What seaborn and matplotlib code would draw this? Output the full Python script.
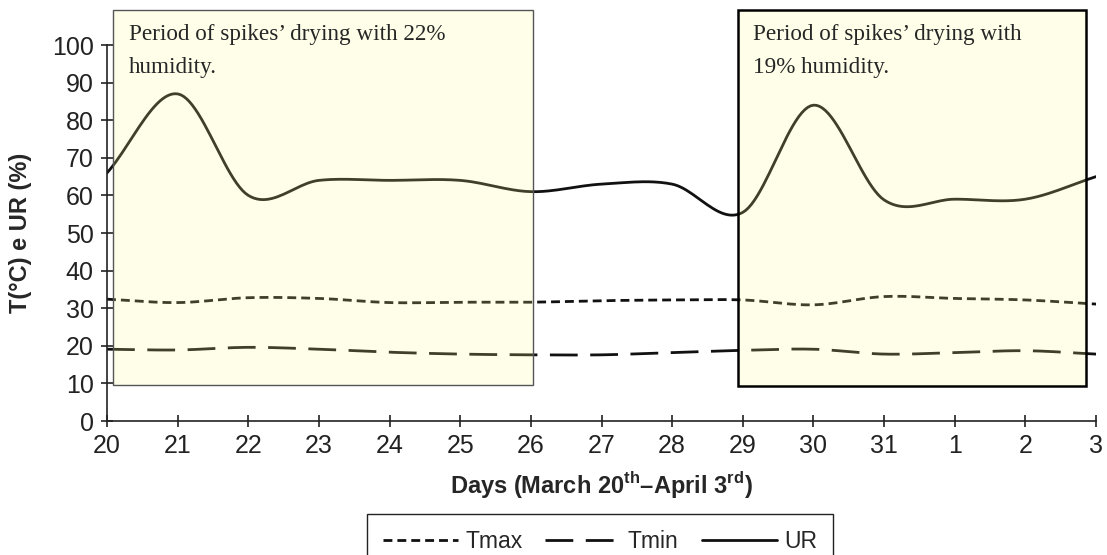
import numpy as np
import pandas as pd
import seaborn as sns
import matplotlib.pyplot as plt
from matplotlib.patches import Rectangle

day_labels = ["20", "21", "22", "23", "24", "25", "26", "27", "28", "29", "30", "31", "1", "2", "3"]
tmax = [32.4, 31.5, 32.8, 32.6, 31.5, 31.6, 31.6, 32.0, 32.2, 32.2, 30.9, 33.1, 32.6, 32.2, 31.1]
tmin = [19.1, 18.9, 19.6, 19.1, 18.3, 17.8, 17.6, 17.6, 18.2, 18.8, 19.1, 17.8, 18.2, 18.7, 17.8]
ur = [66, 87, 60, 64, 64, 64, 61, 63, 63, 55.5, 84, 58.8, 59, 59, 65]
series_names = ["Tmax", "Tmin", "UR"]

note1 = "Period of spikes\u2019 drying with 22%\nhumidity."
note2 = "Period of spikes\u2019 drying with\n19% humidity."


def smooth(xs, ys, n=24):
    # Catmull-Rom curve through the points, like Excel's "smoothed line"
    x = np.asarray(xs, float)
    y = np.asarray(ys, float)
    px = np.concatenate([[2 * x[0] - x[1]], x, [2 * x[-1] - x[-2]]])
    py = np.concatenate([[2 * y[0] - y[1]], y, [2 * y[-1] - y[-2]]])
    t = np.linspace(0, 1, n, endpoint=False)
    ox, oy = [], []
    for i in range(1, len(px) - 2):
        for p, out in ((px, ox), (py, oy)):
            p0, p1, p2, p3 = p[i - 1], p[i], p[i + 1], p[i + 2]
            out.extend(0.5 * (2 * p1 + (-p0 + p2) * t
                              + (2 * p0 - 5 * p1 + 4 * p2 - p3) * t ** 2
                              + (-p0 + 3 * p1 - 3 * p2 + p3) * t ** 3))
    ox.append(x[-1])
    oy.append(y[-1])
    return ox, oy


pos = np.arange(len(day_labels))
frames = []
for name, vals in zip(series_names, [tmax, tmin, ur]):
    sx, sy = smooth(pos, vals)
    frames.append(pd.DataFrame({"day": sx, "value": sy, "series": name}))
df = pd.concat(frames, ignore_index=True)

sns.set_style("ticks")
plt.rcParams["font.family"] = ["Liberation Sans", "DejaVu Sans"]
plt.rcParams["mathtext.fontset"] = "custom"
plt.rcParams["mathtext.rm"] = "Liberation Sans"
plt.rcParams["mathtext.bf"] = "Liberation Sans:bold"

fig = plt.figure(figsize=(11.07, 5.55), dpi=100)
ax = fig.add_axes([0.0967, 0.2414, 0.8934, 0.6775])

sns.lineplot(data=df, x="day", y="value", hue="series", style="series",
             palette={"Tmax": "#111111", "Tmin": "#111111", "UR": "#111111"},
             dashes={"Tmax": (3.2, 1.8), "Tmin": (10, 4.5), "UR": ""},
             linewidth=2, sort=False, estimator=None, ax=ax)

handles, labels = ax.get_legend_handles_labels()
ax.get_legend().remove()

ax.set_xlim(0, 14)
ax.set_ylim(0, 100)
ax.set_xticks(pos)
ax.set_xticklabels(day_labels)
ax.set_yticks(np.arange(0, 101, 10))
ax.tick_params(direction="inout", length=9, width=1.2, labelsize=18,
               colors="#222222", pad=5)
for s in ["top", "right"]:
    ax.spines[s].set_visible(False)
for s in ["left", "bottom"]:
    ax.spines[s].set_color("#222222")
    ax.spines[s].set_linewidth(1.2)

ax.set_xlabel("Days (March 20$^{\\mathbf{th}}$\u2013April 3$^{\\mathbf{rd}}$)",
              fontsize=17, fontweight="bold")
ax.xaxis.set_label_coords(0.5, -0.128)
ax.set_ylabel("T(\u00b0C) e UR (%)", fontsize=17, fontweight="bold")
ax.yaxis.set_label_coords(-0.076, 0.5)

# shaded note boxes laid over the curves
fill = (250 / 255, 250 / 255, 145 / 255, 0.2)
ax.add_patch(Rectangle((0.078, 9.6), 6.03 - 0.078, 109.3 - 9.6, facecolor=fill,
                       edgecolor="#555555", linewidth=1.0, clip_on=False, zorder=5))
ax.add_patch(Rectangle((8.93, 9.4), 13.86 - 8.93, 109.3 - 9.4, facecolor=fill,
                       edgecolor="#000000", linewidth=1.8, clip_on=False, zorder=5))
ax.text(0.31, 105.6, note1, fontsize=16.7, family=["Liberation Serif"], va="top",
        ha="left", linespacing=1.75, zorder=6)
ax.text(9.15, 105.6, note2, fontsize=16.7, family=["Liberation Serif"], va="top",
        ha="left", linespacing=1.75, zorder=6)

fig.legend(handles, labels, loc="upper center", bbox_to_anchor=(0.542, 0.074),
           ncol=3, fontsize=16.5, frameon=True, fancybox=False, edgecolor="#222222",
           framealpha=1, handlelength=3.3, columnspacing=1.0, handletextpad=0.3,
           borderpad=0.7, borderaxespad=0)

fig.savefig("out.png", dpi=100)
